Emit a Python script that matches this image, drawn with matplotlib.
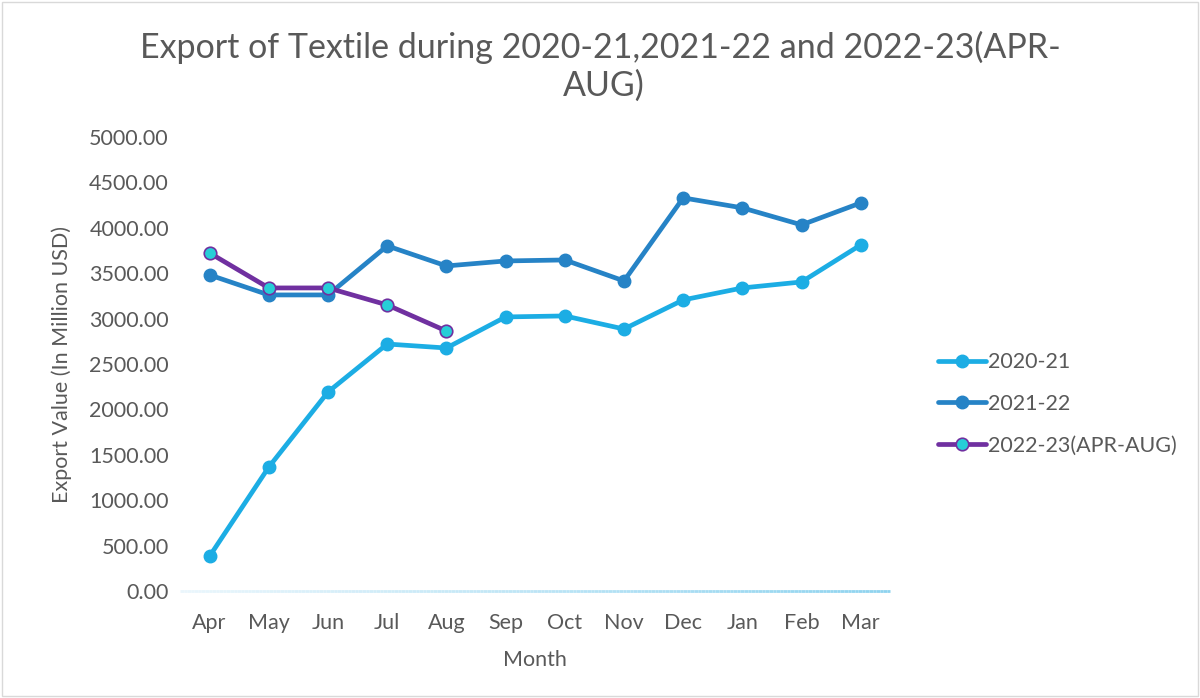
import matplotlib.pyplot as plt
import numpy as np
from matplotlib.collections import LineCollection
from matplotlib.patches import Rectangle

months = ["Apr", "May", "Jun", "Jul", "Aug", "Sep", "Oct", "Nov", "Dec", "Jan", "Feb", "Mar"]
exp_2020_21 = [385, 1366, 2192, 2720, 2676, 3018, 3029, 2885, 3205, 3337, 3403, 3811]
exp_2021_22 = [3480, 3260, 3260, 3800, 3579, 3634, 3645, 3414, 4328, 4218, 4031, 4273]
exp_2022_23 = [3722, 3337, 3337, 3150, 2863]
yticks = [0, 500, 1000, 1500, 2000, 2500, 3000, 3500, 4000, 4500, 5000]

plt.rcParams['font.family'] = ['Lato', 'DejaVu Sans']
gris = "#595959"

fig = plt.figure(figsize=(12, 6.98), dpi=100)
ax = fig.add_axes([0.15, 0.153, 0.592, 0.651])

x = np.arange(len(months))
ax.plot(x, exp_2020_21, color="#1CADE4", lw=3.4, marker="o", ms=9, label="2020-21",
        solid_capstyle="round")
ax.plot(x, exp_2021_22, color="#2683C6", lw=3.4, marker="o", ms=9, label="2021-22",
        solid_capstyle="round")
ax.plot(x[:len(exp_2022_23)], exp_2022_23, color="#7030A0", lw=3.4, marker="o", ms=9,
        markerfacecolor="#27CED7", markeredgecolor="#7030A0", markeredgewidth=1.2,
        label="2022-23(APR-AUG)", solid_capstyle="round")

ax.set_xlim(-0.5, len(months) - 0.5)
ax.set_ylim(0, 5000)
ax.set_xticks(x)
ax.set_xticklabels(months)
ax.set_yticks(yticks)
ax.set_yticklabels([f"{v:.2f}" for v in yticks])
ax.tick_params(length=0, labelsize=15.5, colors=gris)
ax.tick_params(axis="x", pad=16)
ax.tick_params(axis="y", pad=8)
for s in ax.spines.values():
    s.set_visible(False)

# linea del eje x con degradado
xs = np.linspace(-0.5, len(months) - 0.5, 200)
segs = [[(xs[i], 0), (xs[i + 1], 0)] for i in range(len(xs) - 1)]
cols = plt.cm.colors.LinearSegmentedColormap.from_list("g", ["#EAF6FC", "#8ED3EF"])(np.linspace(0, 1, len(segs)))
lc = LineCollection(segs, colors=cols, linewidths=2, clip_on=False, zorder=1)
ax.add_collection(lc)

ax.set_xlabel("Month", fontsize=15.5, color=gris, labelpad=12)
ax.set_ylabel("Export Value (In Million USD)", fontsize=15.5, color=gris, labelpad=12)

fig.text(0.5, 0.932, "Export of Textile during 2020-21,2021-22 and 2022-23(APR-", ha="center",
         va="center", fontsize=24.5, color=gris)
fig.text(0.503, 0.877, "AUG)", ha="center", va="center", fontsize=24.5, color=gris)

leg = ax.legend(loc="center left", bbox_to_anchor=(1.04, 0.412), frameon=False, fontsize=15.5,
                labelcolor=gris, handlelength=2.2, handletextpad=0.1, labelspacing=1.0)

fig.patches.append(Rectangle((0.002, 0.003), 0.996, 0.994, transform=fig.transFigure,
                             fill=False, edgecolor="#D9D9D9", lw=1))

fig.savefig("out.png", dpi=100)
